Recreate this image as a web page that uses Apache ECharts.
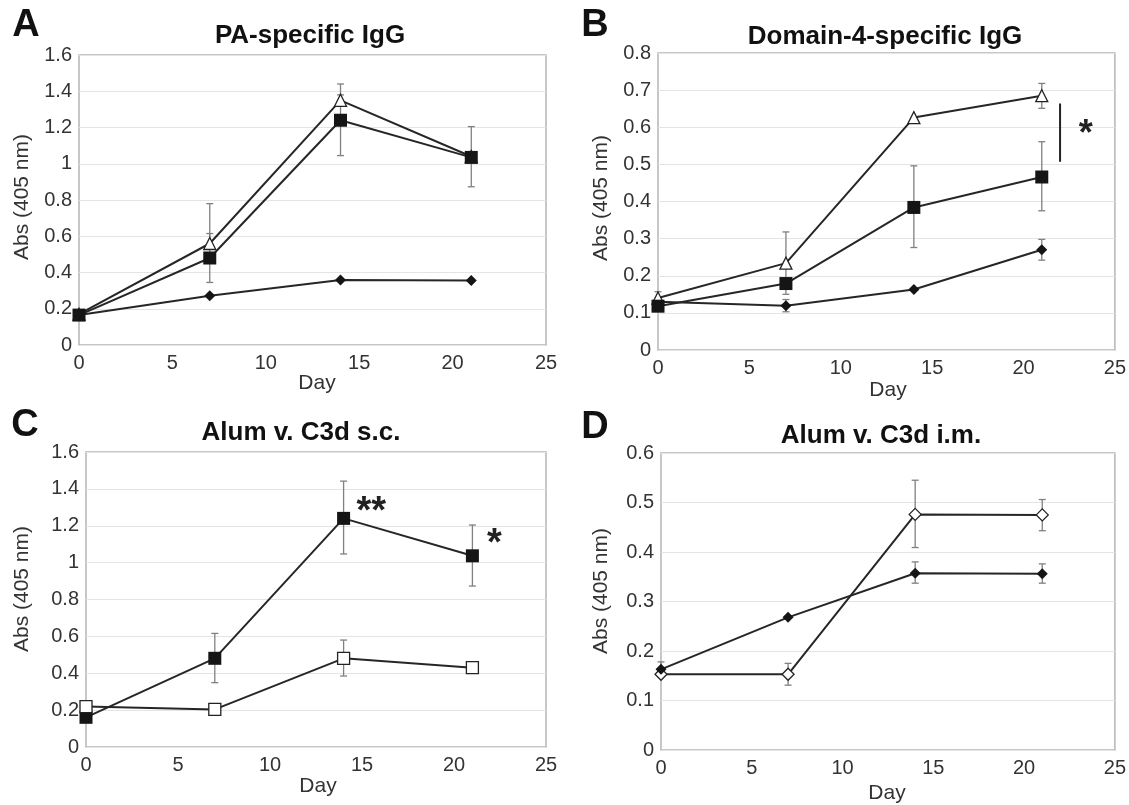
<!DOCTYPE html>
<html>
<head>
<meta charset="utf-8">
<script src="https://cdn.jsdelivr.net/npm/echarts@6/dist/echarts.min.js"></script>
<style>html,body{margin:0;padding:0;background:#fff}#c{width:1129px;height:805px}</style>
</head>
<body>
<div id="c"></div>
<script>
// ---- data ----
const days = [0, 7, 14, 21];
const xTicks = [0, 5, 10, 15, 20, 25];

// Panel A: PA-specific IgG
const aTri = [0.17, 0.56, 1.35, 1.04];
const aTriLow = [null, 0.53, 1.32, null];
const aTriHigh = [null, 0.78, 1.38, null];
const aSq = [0.165, 0.48, 1.24, 1.035];
const aSqLow = [null, 0.345, 1.045, 0.873];
const aSqHigh = [null, 0.615, 1.44, 1.205];
const aDia = [0.165, 0.272, 0.359, 0.356];

// Panel B: Domain-4-specific IgG
const bTri = [0.14, 0.234, 0.626, 0.685];
const bTriLow = [null, 0.15, null, 0.651];
const bTriHigh = [null, 0.318, null, 0.718];
const bSq = [0.118, 0.179, 0.384, 0.466];
const bSqLow = [null, null, 0.276, 0.375];
const bSqHigh = [null, null, 0.496, 0.561];
const bDia = [0.13, 0.119, 0.163, 0.27];
const bDiaLow = [0.105, 0.103, null, 0.242];
const bDiaHigh = [0.157, 0.136, null, 0.298];
const bSigLine = [22, 0.507, 0.664];
const bSigText = [[23.4, 0.578, '*']];

// Panel C: Alum v. C3d s.c.
const cSq = [0.161, 0.481, 1.24, 1.037];
const cSqLow = [null, 0.349, 1.047, 0.873];
const cSqHigh = [null, 0.616, 1.442, 1.204];
const cOpen = [0.219, 0.204, 0.481, 0.43];
const cOpenLow = [null, null, 0.385, null];
const cOpenHigh = [null, null, 0.58, null];
const cSigText = [[15.5, 1.27, '**'], [22.2, 1.1, '*']];

// Panel D: Alum v. C3d i.m.
const dDia = [0.163, 0.268, 0.357, 0.356];
const dDiaLow = [0.148, null, 0.337, 0.337];
const dDiaHigh = [0.178, null, 0.38, 0.376];
const dOpen = [0.153, 0.153, 0.476, 0.475];
const dOpenLow = [null, 0.131, 0.409, 0.443];
const dOpenHigh = [null, 0.175, 0.545, 0.506];

const panels = [
  {letter: 'A', title: 'PA-specific IgG', yMax: 1.6, yInt: 0.2},
  {letter: 'B', title: 'Domain-4-specific IgG', yMax: 0.8, yInt: 0.1},
  {letter: 'C', title: 'Alum v. C3d s.c.', yMax: 1.6, yInt: 0.2},
  {letter: 'D', title: 'Alum v. C3d i.m.', yMax: 0.6, yInt: 0.1}
];

// ---- layout ----
const grids = [
  {left: 79, top: 55, width: 467, height: 290},
  {left: 658, top: 53, width: 458, height: 297},
  {left: 86, top: 452, width: 460, height: 295},
  {left: 661, top: 453, width: 454, height: 297}
];
const FONT = '"Liberation Sans", Arial, sans-serif';
const LINE = '#262626';
const ERR = '#808080';

function pts(vals) { return days.map((d, i) => [d, vals[i]]); }
function errs(low, high) {
  const out = [];
  days.forEach((d, i) => { if (low[i] != null || high[i] != null) out.push([d, low[i] != null ? low[i] : high[i], high[i] != null ? high[i] : low[i], low[i] != null ? 1 : 0, high[i] != null ? 1 : 0]); });
  return out;
}

const series = [];
function lineSeries(k, vals, symbol, size, open, z) {
  series.push({
    type: 'line', xAxisIndex: k, yAxisIndex: k, data: pts(vals), symbol: symbol, symbolSize: size,
    showAllSymbol: true, z: z || 3, animation: false,
    lineStyle: {color: LINE, width: 2},
    itemStyle: {color: open ? '#fff' : '#151515', borderColor: '#222', borderWidth: open ? 1.3 : 0},
    emphasis: {disabled: true}
  });
}
function errSeries(k, low, high) {
  series.push({
    type: 'custom', xAxisIndex: k, yAxisIndex: k, data: errs(low, high), z: 2, animation: false, silent: true,
    renderItem: function (params, api) {
      const x = api.value(0);
      const p1 = api.coord([x, api.value(1)]);
      const p2 = api.coord([x, api.value(2)]);
      const center = p1[0];
      const children = [{type: 'line', shape: {x1: center, y1: p1[1], x2: center, y2: p2[1]}, style: {stroke: ERR, lineWidth: 1.3}}];
      if (api.value(3)) children.push({type: 'line', shape: {x1: center - 3.5, y1: p1[1], x2: center + 3.5, y2: p1[1]}, style: {stroke: ERR, lineWidth: 1.3}});
      if (api.value(4)) children.push({type: 'line', shape: {x1: center - 3.5, y1: p2[1], x2: center + 3.5, y2: p2[1]}, style: {stroke: ERR, lineWidth: 1.3}});
      return {type: 'group', children: children};
    }
  });
}
function textSeries(k, data, size) {
  series.push({
    type: 'custom', xAxisIndex: k, yAxisIndex: k, data: data, z: 5, animation: false, silent: true,
    renderItem: function (params, api) {
      const p = api.coord([api.value(0), api.value(1)]);
      return {type: 'text', x: p[0], y: p[1], style: {text: data[params.dataIndex][2], font: 'bold ' + size + 'px ' + FONT, fill: '#222', textAlign: 'center', textVerticalAlign: 'middle'}};
    }
  });
}
function sigLineSeries(k, d) {
  series.push({
    type: 'custom', xAxisIndex: k, yAxisIndex: k, data: [d], z: 5, animation: false, silent: true,
    renderItem: function (params, api) {
      const p1 = api.coord([api.value(0), api.value(1)]);
      const p2 = api.coord([api.value(0), api.value(2)]);
      return {type: 'line', shape: {x1: p1[0], y1: p1[1], x2: p2[0], y2: p2[1]}, style: {stroke: '#222', lineWidth: 2}};
    }
  });
}

// A
errSeries(0, aTriLow, aTriHigh); errSeries(0, aSqLow, aSqHigh);
lineSeries(0, aDia, 'diamond', 11, false, 3);
lineSeries(0, aTri, 'triangle', 12, true, 3);
lineSeries(0, aSq, 'rect', 13, false, 4);
// B
errSeries(1, bTriLow, bTriHigh); errSeries(1, bSqLow, bSqHigh); errSeries(1, bDiaLow, bDiaHigh);
lineSeries(1, bDia, 'diamond', 11, false, 3);
lineSeries(1, bTri, 'triangle', 12, true, 3);
lineSeries(1, bSq, 'rect', 13, false, 4);
sigLineSeries(1, bSigLine);
textSeries(1, bSigText, 36);
// C
errSeries(2, cSqLow, cSqHigh); errSeries(2, cOpenLow, cOpenHigh);
lineSeries(2, cSq, 'rect', 13, false, 3);
lineSeries(2, cOpen, 'rect', 12, true, 4);
textSeries(2, cSigText, 38);
// D
errSeries(3, dDiaLow, dDiaHigh); errSeries(3, dOpenLow, dOpenHigh);
lineSeries(3, dOpen, 'diamond', 12, true, 3);
lineSeries(3, dDia, 'diamond', 11, false, 4);

const xAxes = grids.map((g, k) => ({
  type: 'value', gridIndex: k, min: xTicks[0], max: xTicks[xTicks.length - 1], interval: xTicks[1] - xTicks[0],
  axisLine: {show: false}, axisTick: {show: false}, splitLine: {show: false},
  axisLabel: {color: '#333', fontSize: 20, fontFamily: FONT, margin: 8}
}));
const yAxes = panels.map((p, k) => ({
  type: 'value', gridIndex: k, min: 0, max: p.yMax, interval: p.yInt,
  axisLine: {show: false}, axisTick: {show: false},
  splitLine: {show: true, lineStyle: {color: '#e4e4e4', width: 1}},
  axisLabel: {color: '#333', fontSize: 20, fontFamily: FONT, margin: 7}
}));

// text positions
const letterPos = [[26, 26], [595, 26], [25, 426], [595, 428]];
const titlePos = [[310, 36], [885, 37], [301, 433], [881, 436]];
const yNamePos = [[22, 197], [601, 198], [22, 589], [601, 591]];
const xNamePos = [[317, 383], [888, 390], [318, 786], [887, 793]];
const graphic = [];
panels.forEach((p, k) => {
  graphic.push({type: 'text', x: letterPos[k][0], y: letterPos[k][1], style: {text: p.letter, font: 'bold 38px ' + FONT, fill: '#111', textAlign: 'center', textVerticalAlign: 'middle'}});
  graphic.push({type: 'text', x: titlePos[k][0], y: titlePos[k][1], style: {text: p.title, font: 'bold 26px ' + FONT, fill: '#111', textAlign: 'center', textVerticalAlign: 'middle'}});
  graphic.push({type: 'text', x: yNamePos[k][0], y: yNamePos[k][1], rotation: Math.PI / 2, style: {text: 'Abs (405 nm)', font: '21px ' + FONT, fill: '#333', textAlign: 'center', textVerticalAlign: 'middle'}});
  graphic.push({type: 'text', x: xNamePos[k][0], y: xNamePos[k][1], style: {text: 'Day', font: '21px ' + FONT, fill: '#333', textAlign: 'center', textVerticalAlign: 'middle'}});
});

const chart = echarts.init(document.getElementById('c'));
chart.setOption({
  backgroundColor: '#fff',
  animation: false,
  grid: grids.map(g => Object.assign({show: true, borderColor: '#b5b5b5', borderWidth: 1.5, backgroundColor: 'transparent'}, g)),
  xAxis: xAxes,
  yAxis: yAxes,
  series: series,
  graphic: graphic
});
</script>
</body>
</html>
